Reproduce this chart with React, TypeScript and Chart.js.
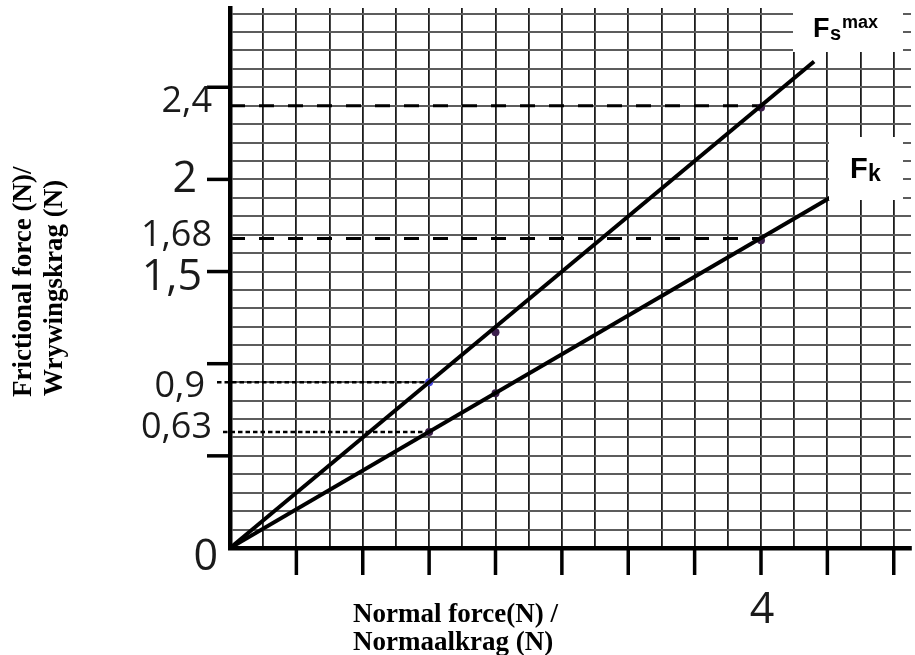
import { useEffect, useRef } from 'react';
import { Chart, registerables } from 'chart.js';

Chart.register(...registerables);

// ---- data ----
const xRange = [0, 5.13];
const yRange = [0, 2.93];
const xGridStep = 0.25;
const yGridStep = 0.1;

const fsPoints = [
  { x: 1.5, y: 0.9 },
  { x: 2, y: 1.17 },
  { x: 4, y: 2.39 },
];
const fkPoints = [
  { x: 1.5, y: 0.63 },
  { x: 2, y: 0.84 },
  { x: 4, y: 1.67 },
];
const fsLine = [
  { x: 0, y: 0 },
  { x: 4.4, y: 2.64 },
];
const fkLine = [
  { x: 0, y: 0 },
  { x: 4.9, y: 2.06 },
];

const yLabelValues = [2.4, 2, 1.68, 1.5, 0.9, 0.63, 0];
const yLabelTexts = ['2,4', '2', '1,68', '1,5', '0,9', '0,63', '0'];
const yTickMarks = [0.5, 1, 1.5, 2, 2.5];
const xTickMarks = [0.5, 1, 1.5, 2, 2.5, 3, 3.5, 4, 4.5, 5];
const xLabelValues = [4];
const xLabelTexts = ['4'];

const guideLong = [
  { x: 4, y: 2.4 },
  { x: 4, y: 1.68 },
];
const guideShort = [
  { x: 1.5, y: 0.9 },
  { x: 1.5, y: 0.63 },
];

const xTitleLines = ['Normal force(N) /', 'Normaalkrag (N)'];
const yTitleLines = ['Frictional force (N)/', 'Wrywingskrag (N)'];

// ---- styles (not data) ----
const yLabelStyle = [
  { size: 36, dx: -18, dy: 6 },
  { size: 43, dx: -33, dy: 13 },
  { size: 36, dx: -18, dy: 8 },
  { size: 43, dx: -28, dy: 18 },
  { size: 36, dx: -25, dy: 15 },
  { size: 36, dx: -18, dy: 6 },
  { size: 43, dx: -12, dy: 22 },
];
const guideShortOverhang = [13, 7];
const labelFont = '"Open Sans", "Noto Sans", sans-serif';
const titleFont = 'bold 27px "Liberation Serif", "Times New Roman", serif';
const legendFont = '"Liberation Sans", Arial, sans-serif';

const overlay = {
  id: 'overlay',
  beforeDatasetsDraw(chart: any) {
    const { ctx, scales } = chart;
    const x = scales.x;
    const y = scales.y;
    const x0 = x.getPixelForValue(0);
    ctx.save();
    ctx.strokeStyle = '#000';
    ctx.lineCap = 'butt';
    ctx.lineWidth = 3;
    ctx.setLineDash([15, 14]);
    guideLong.forEach((g) => {
      const py = y.getPixelForValue(g.y);
      ctx.beginPath();
      ctx.moveTo(x0, py);
      ctx.lineTo(x.getPixelForValue(g.x), py);
      ctx.stroke();
    });
    ctx.lineWidth = 2.5;
    ctx.setLineDash([4.5, 3]);
    guideShort.forEach((g, i) => {
      const py = y.getPixelForValue(g.y);
      ctx.beginPath();
      ctx.moveTo(x0 - guideShortOverhang[i], py);
      ctx.lineTo(x.getPixelForValue(g.x), py);
      ctx.stroke();
    });
    ctx.restore();
  },
  afterDraw(chart: any) {
    const { ctx, scales } = chart;
    const x = scales.x;
    const y = scales.y;
    const x0 = x.getPixelForValue(0);
    const y0 = y.getPixelForValue(0);
    ctx.save();
    ctx.setLineDash([]);
    ctx.strokeStyle = '#000';
    // x tick marks below axis
    ctx.lineWidth = 3.5;
    xTickMarks.forEach((v) => {
      const px = x.getPixelForValue(v);
      ctx.beginPath();
      ctx.moveTo(px, y0 + 2);
      ctx.lineTo(px, y0 + 27);
      ctx.stroke();
    });
    // y tick marks left of axis
    ctx.lineWidth = 3.5;
    yTickMarks.forEach((v) => {
      const py = y.getPixelForValue(v);
      ctx.beginPath();
      ctx.moveTo(x0 - 23, py);
      ctx.lineTo(x0 - 2, py);
      ctx.stroke();
    });
    // y labels
    ctx.fillStyle = '#1a1a1a';
    ctx.textAlign = 'right';
    ctx.textBaseline = 'alphabetic';
    yLabelValues.forEach((v, i) => {
      const s = yLabelStyle[i];
      ctx.font = `${s.size}px ${labelFont}`;
      ctx.fillText(yLabelTexts[i], x0 + s.dx, y.getPixelForValue(v) + s.dy);
    });
    // x labels
    ctx.textAlign = 'center';
    ctx.font = `43px ${labelFont}`;
    xLabelValues.forEach((v, i) => {
      ctx.fillText(xLabelTexts[i], x.getPixelForValue(v) + 1, y0 + 75);
    });
    // axis titles
    ctx.fillStyle = '#000';
    ctx.font = titleFont;
    ctx.textAlign = 'left';
    ctx.fillText(xTitleLines[0], 353, 622);
    ctx.fillText(xTitleLines[1], 353, 650);
    ctx.save();
    ctx.translate(31, 397);
    ctx.rotate(-Math.PI / 2);
    ctx.fillText(yTitleLines[0], 0, 0);
    ctx.restore();
    ctx.save();
    ctx.translate(62, 396);
    ctx.rotate(-Math.PI / 2);
    ctx.fillText(yTitleLines[1], 0, 0);
    ctx.restore();
    // series name boxes
    ctx.fillStyle = '#fff';
    ctx.fillRect(793, 0, 110, 52);
    ctx.fillRect(829, 137, 74, 63);
    ctx.fillStyle = '#000';
    ctx.textAlign = 'left';
    ctx.font = `bold 27px ${legendFont}`;
    ctx.fillText('F', 813, 37);
    ctx.font = `bold 20px ${legendFont}`;
    ctx.fillText('s', 830, 40);
    ctx.font = `bold 18px ${legendFont}`;
    ctx.fillText('max', 842, 28);
    ctx.font = `bold 29px ${legendFont}`;
    ctx.fillText('F', 850, 178);
    ctx.font = `bold 23px ${legendFont}`;
    ctx.fillText('k', 868, 181);
    ctx.restore();
  },
};

export default function App() {
  const ref = useRef<HTMLCanvasElement | null>(null);
  useEffect(() => {
    if (!ref.current) return;
    const chart = new Chart(ref.current, {
      type: 'scatter',
      data: {
        datasets: [
          { data: fsLine, showLine: true, borderColor: '#000', borderWidth: 4, pointRadius: 0 },
          { data: fkLine, showLine: true, borderColor: '#000', borderWidth: 4, pointRadius: 0 },
          {
            data: fsPoints,
            showLine: false,
            pointRadius: 4,
            borderWidth: 0,
            pointBackgroundColor: ['#4848dc', '#3c1f4c', '#3c1f4c'],
          },
          {
            data: fkPoints,
            showLine: false,
            pointRadius: 4,
            borderWidth: 0,
            pointBackgroundColor: '#3c1f4c',
          },
        ],
      },
      options: {
        animation: false,
        responsive: false,
        devicePixelRatio: 1,
        layout: { padding: { left: 230, right: 0, top: 8, bottom: 107 } },
        plugins: { legend: { display: false }, tooltip: { enabled: false } },
        scales: {
          x: {
            type: 'linear',
            min: xRange[0],
            max: xRange[1],
            ticks: { display: false, stepSize: xGridStep, includeBounds: false },
            grid: { color: '#1c1c1c', lineWidth: 1.8, drawTicks: false },
            border: { display: true, color: '#000', width: 4.5 },
          },
          y: {
            type: 'linear',
            min: yRange[0],
            max: yRange[1],
            ticks: { display: false, stepSize: yGridStep, includeBounds: false },
            grid: { color: '#5c5c5c', lineWidth: 2, drawTicks: false },
            border: { display: true, color: '#000', width: 4.5 },
          },
        },
      },
      plugins: [overlay],
    });
    return () => chart.destroy();
  }, []);
  return (
    <div style={{ position: 'absolute', left: 0, top: 0, width: 915, height: 655 }}>
      <canvas ref={ref} width={915} height={655} style={{ width: 915, height: 655 }} />
    </div>
  );
}
